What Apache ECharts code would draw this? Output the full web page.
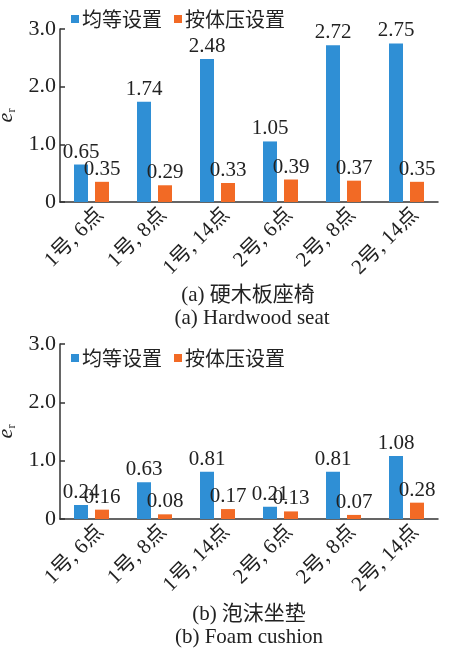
<!DOCTYPE html>
<html>
<head>
<meta charset="utf-8">
<script src="https://cdn.jsdelivr.net/npm/echarts@6/dist/echarts.min.js"></script>
<style>
html,body{margin:0;padding:0;background:#fff;}
#main{width:456px;height:649px;}
</style>
</head>
<body>
<div id="main"></div>
<script>
const categories = ['1号, 6点', '1号, 8点', '1号, 14点', '2号, 6点', '2号, 8点', '2号, 14点'];
const seriesNames = ['均等设置', '按体压设置'];
const hardwoodEqual = [0.65, 1.74, 2.48, 1.05, 2.72, 2.75];
const hardwoodPressure = [0.35, 0.29, 0.33, 0.39, 0.37, 0.35];
const foamEqual = [0.24, 0.63, 0.81, 0.21, 0.81, 1.08];
const foamPressure = [0.16, 0.08, 0.17, 0.13, 0.07, 0.28];
const yTicks = [0, 1, 2, 3];
const captions = ['(a) 硬木板座椅', '(a) Hardwood seat', '(b) 泡沫坐垫', '(b) Foam cushion'];

const FONT = "'Liberation Serif', 'Noto Sans CJK SC', serif";
const BLUE = '#2F8FD5';
const ORANGE = '#F26A25';
const AX = '#333';

const chart = echarts.init(document.getElementById('main'), null, {renderer: 'canvas'});

function xAxis(gi) {
  return {
    type: 'category', gridIndex: gi, data: categories,
    axisLine: {lineStyle: {color: AX, width: 1.5}},
    axisTick: {show: false},
    axisLabel: {interval: 0, rotate: 45, fontSize: 21, fontFamily: FONT, color: '#222', margin: 1,
      verticalAlign: 'top', padding: [2, 0, 0, 0]}
  };
}
function yAxis(gi) {
  return {
    type: 'value', gridIndex: gi, min: yTicks[0], max: yTicks[yTicks.length - 1], interval: 1,
    name: '{e|e}{r|r}', nameLocation: 'middle', nameGap: 36, nameRotate: 90,
    nameTextStyle: {rich: {e: {fontFamily: FONT, fontStyle: 'italic', fontSize: 22, color: '#222'},
                           r: {fontFamily: FONT, fontSize: 12, color: '#222', verticalAlign: 'bottom', padding: [9, 0, 0, 0]}}},
    splitLine: {show: false},
    axisLine: {show: true, lineStyle: {color: AX, width: 1.5}},
    axisTick: {show: true, inside: true, length: 5, lineStyle: {color: AX, width: 1.5}},
    axisLabel: {fontSize: 22, fontFamily: FONT, color: '#222', margin: 4,
      formatter: v => v === 0 ? '0' : v.toFixed(1)}
  };
}
function bar(name, data, color, gi) {
  return {
    name: name, type: 'bar', xAxisIndex: gi, yAxisIndex: gi, data: data,
    barWidth: 14, barGap: '50%',
    itemStyle: {color: color},
    label: {show: true, position: 'top', distance: 2, fontSize: 21, fontFamily: FONT, color: '#222',
      formatter: p => p.value.toFixed(2)}
  };
}
function legend(top) {
  return {
    data: seriesNames, left: 66, top: top, itemWidth: 8, itemHeight: 8, itemGap: 12,
    icon: 'rect',
    textStyle: {fontSize: 20, fontFamily: "'Noto Sans CJK SC', sans-serif", color: '#222', padding: [0, 0, 0, -2]}
  };
}

chart.setOption({
  animation: false,
  backgroundColor: '#fff',
  grid: [
    {left: 60, right: 18, top: 29, height: 173, containLabel: false, outerBoundsMode: 'none'},
    {left: 60, right: 18, top: 344, height: 175, containLabel: false, outerBoundsMode: 'none'}
  ],
  legend: [legend(4), legend(343)],
  xAxis: [xAxis(0), xAxis(1)],
  yAxis: [yAxis(0), yAxis(1)],
  series: [
    bar(seriesNames[0], hardwoodEqual, BLUE, 0),
    bar(seriesNames[1], hardwoodPressure, ORANGE, 0),
    bar(seriesNames[0], foamEqual, BLUE, 1),
    bar(seriesNames[1], foamPressure, ORANGE, 1)
  ],
  graphic: [
    {type: 'text', x: 248, y: 295, style: {text: captions[0], font: "21px " + FONT, fill: '#222', align: 'center', verticalAlign: 'middle'}},
    {type: 'text', x: 252, y: 318, style: {text: captions[1], font: "21px " + FONT, fill: '#222', align: 'center', verticalAlign: 'middle'}},
    {type: 'text', x: 249, y: 614, style: {text: captions[2], font: "21px " + FONT, fill: '#222', align: 'center', verticalAlign: 'middle'}},
    {type: 'text', x: 249, y: 637, style: {text: captions[3], font: "21px " + FONT, fill: '#222', align: 'center', verticalAlign: 'middle'}}
  ]
});
</script>
</body>
</html>
